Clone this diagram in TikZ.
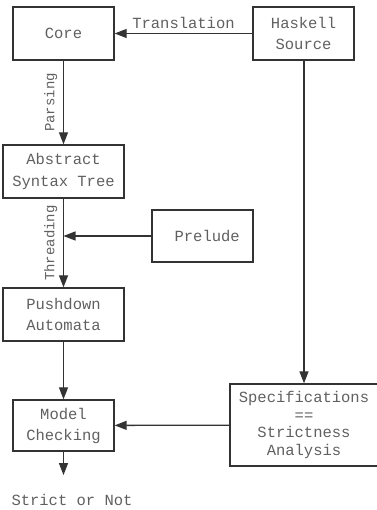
\documentclass[tikz,border=0pt]{standalone}
\usepackage{fontspec}
\setmonofont{Liberation Mono}
\definecolor{ink}{HTML}{333333}
\definecolor{txt}{HTML}{606060}
\usetikzlibrary{positioning, arrows.meta}

\begin{document}
\begin{tikzpicture}[x=1pt, y=1pt,
  box/.style={draw=ink, line width=1.3pt, align=center, inner sep=0pt,
              minimum width=101pt, minimum height=53pt, text=txt,
              font=\ttfamily\fontsize{15.5}{21}\selectfont},
  wide/.style={box, minimum width=121pt},
  flow/.style={-{Triangle[length=12pt, width=9pt]}, line width=1.3pt, ink},
  lbl/.style={text=txt, font=\ttfamily\fontsize{15.5}{18}\selectfont, inner sep=1pt},
  side/.style={lbl, font=\ttfamily\fontsize{14}{16}\selectfont, rotate=90, anchor=south}]
  \useasboundingbox (0,0) rectangle (376,510);
  % Boxes
  \node[box] (core) at (63.5,476.5) {Core};
  \node[box] (hask) at (303.5,476.5) {Haskell\\Source};
  \node[wide] (ast) at (63.5,338.5) {Abstract\\Syntax Tree};
  \node[box, minimum height=52pt] (prel) at (202.5,274) {\ Prelude};
  \node[wide] (pda) at (63.5,195.5) {Pushdown\\Automata};
  \node[box, minimum height=51pt] (mc) at (63.5,84.5) {Model\\Checking};
  \node[box, minimum width=148pt, minimum height=82pt,
        font=\ttfamily\fontsize{15.5}{17.5}\selectfont] (spec) at (304,85)
        {Specifications\\==\\Strictness\\Analysis};
  \node[lbl] (res) at (72,10) {Strict or Not};
  \coordinate (join) at (ast.south |- prel.west);
  % Arrows
  \draw[flow] (hask) -- (core) node[lbl, midway, above=3pt] {Translation};
  \draw[flow] (core) -- (ast) coordinate[midway] (pmid);
  \draw[flow] (ast) -- (pda) coordinate[midway] (tmid);
  \draw[flow] (prel) -- (join);
  \draw[flow] (pda) -- (mc);
  \draw[flow] (hask.south -| spec.north) -- (spec);
  \draw[flow] (spec) -- (mc);
  \draw[flow] (mc.south) -- ([yshift=18pt]res.north -| mc.south);
  % Side labels
  \node[side] (parse) at ([xshift=-5pt]pmid) {Parsing};
  \node[side] (thread) at ([xshift=-5pt]tmid) {Threading};
\end{tikzpicture}
\end{document}
